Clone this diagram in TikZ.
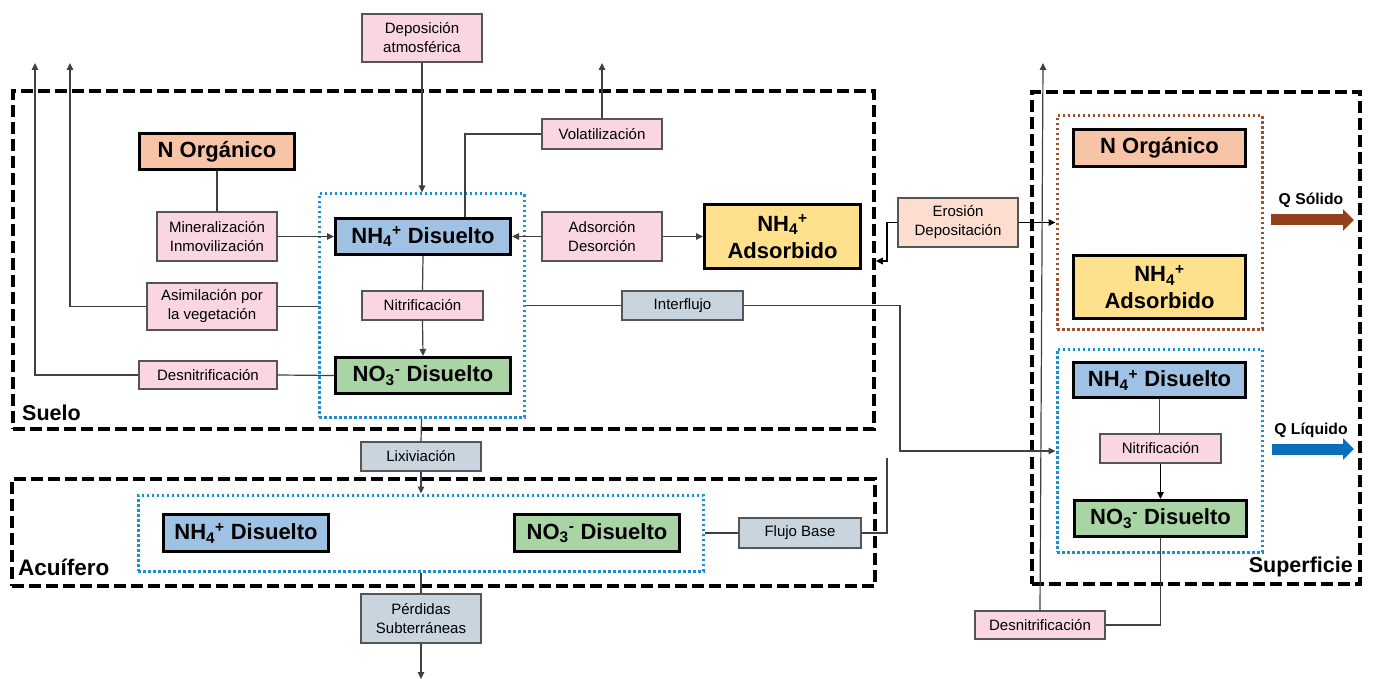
\documentclass[tikz,border=0pt]{standalone}
\usepackage{fontspec}
\setmainfont{Liberation Sans}
\usetikzlibrary{arrows.meta}
\definecolor{pinkf}{HTML}{F9D6E2}
\definecolor{grayf}{HTML}{C8D4DE}
\definecolor{orgf}{HTML}{F8C4A8}
\definecolor{nhf}{HTML}{9FC2E4}
\definecolor{nof}{HTML}{A9D5A5}
\definecolor{adsf}{HTML}{FFE08C}
\definecolor{erosf}{HTML}{FCDDD0}
\definecolor{dblue}{HTML}{1A8FD6}
\definecolor{dbrown}{HTML}{A0502D}
\definecolor{qbrown}{HTML}{93401C}
\definecolor{qblue}{HTML}{0A70BE}
\definecolor{lgray}{HTML}{555555}
\definecolor{cgray}{HTML}{404040}
\tikzset{
  lbl/.style={draw=lgray, line width=1.2pt, fill=pinkf, align=center, inner sep=0pt,
    font=\fontsize{15}{19}\selectfont},
  glbl/.style={lbl, fill=grayf},
  big/.style={draw=black, line width=3pt, align=center, inner sep=0pt,
    font=\bfseries\fontsize{22}{27}\selectfont},
  container/.style={draw=black, line width=3.5pt, dash pattern=on 12pt off 5pt, inner sep=0pt},
  bluebox/.style={draw=dblue, line width=3pt, dash pattern=on 2.5pt off 2.5pt, inner sep=0pt},
  brownbox/.style={draw=dbrown, line width=3pt, dash pattern=on 2.5pt off 2.5pt, inner sep=0pt},
  conn/.style={draw=cgray, line width=1.2pt},
  arr/.style={conn, -{Triangle[length=7pt,width=6.5pt]}},
  zone/.style={font=\bfseries\fontsize{21.5}{24}\selectfont, inner sep=0pt},
  qlab/.style={font=\bfseries\fontsize{15.7}{18}\selectfont, inner sep=0pt},
}
\newcommand{\nhf}{NH\textsubscript{4}\textsuperscript{+}}
\newcommand{\nof}{NO\textsubscript{3}\textsuperscript{-}}
\begin{document}
\begin{tikzpicture}[x=1pt,y=-1pt]
\useasboundingbox (0,0) rectangle (1373,679);
% containers
\node[container, minimum width=861pt, minimum height=338pt] (suelo) at (443.5,260) {};
\node[container, minimum width=863pt, minimum height=107pt] (acuif) at (443.5,532.5) {};
\node[container, minimum width=328pt, minimum height=492pt] (superf) at (1196,338) {};
\node[bluebox, minimum width=205pt, minimum height=223pt] (soilblue) at (421.5,305.5) {};
\node[bluebox, minimum width=565pt, minimum height=76pt] (aqblue) at (420.5,533) {};
\node[brownbox, minimum width=205pt, minimum height=213pt] (brown) at (1159.5,222.5) {};
\node[bluebox, minimum width=205pt, minimum height=203pt] (surfblue) at (1159.5,450.5) {};
\node[zone, anchor=west] (lsuelo) at (22,413) {Suelo};
\node[zone, anchor=west, font=\bfseries\fontsize{22.5}{24}\selectfont] (lacuif) at (18,567) {Acuífero};
\node[zone, anchor=east] (lsuperf) at (1353,567) {Superficie};
% soil
\node[lbl, minimum width=120pt, minimum height=48pt] (depo) at (422,38) {Deposición\\atmosférica};
\node[big, fill=orgf, minimum width=155pt, minimum height=36pt] (orgS) at (217,151.5) {N Orgánico};
\node[lbl, minimum width=120pt, minimum height=49pt] (minera) at (217,236.5) {Mineralización\\Inmovilización};
\node[lbl, minimum width=130pt, minimum height=47pt] (asim) at (212,306.5) {Asimilación por\\la vegetación};
\node[lbl, minimum width=138pt, minimum height=28pt] (desn) at (208,375) {Desnitrificación};
\node[big, fill=nhf, minimum width=175pt, minimum height=36pt] (nh4S) at (423,236.5) {\nhf{} Disuelto};
\node[lbl, minimum width=121pt, minimum height=29pt] (nitrS) at (422.5,305.5) {Nitrificación};
\node[big, fill=nof, minimum width=175pt, minimum height=36pt] (no3S) at (423,375.5) {\nof{} Disuelto};
\node[lbl, minimum width=120pt, minimum height=30pt] (volat) at (602,134) {Volatilización};
\node[lbl, minimum width=120pt, minimum height=49pt] (ads) at (602,236.5) {Adsorción\\Desorción};
\node[big, fill=adsf, minimum width=156pt, minimum height=64pt] (adsorb) at (782.5,236.5) {\nhf\\Adsorbido};
\node[glbl, minimum width=121pt, minimum height=29pt] (interf) at (682.5,305.5) {Interflujo};
% aquifer
\node[glbl, minimum width=120pt, minimum height=29pt] (lix) at (421,456.5) {Lixiviación};
\node[big, fill=nhf, minimum width=165pt, minimum height=37pt] (nh4A) at (246,533) {\nhf{} Disuelto};
\node[big, fill=nof, minimum width=165pt, minimum height=37pt] (no3A) at (597,533) {\nof{} Disuelto};
\node[glbl, minimum width=120pt, minimum height=49pt] (perd) at (421,618.5) {Pérdidas\\Subterráneas};
\node[glbl, minimum width=122pt, minimum height=30pt] (flujo) at (800,533) {Flujo Base};
% surface
\node[lbl, fill=erosf, minimum width=120pt, minimum height=49pt] (eros) at (958,222.5) {Erosión\\Depositación};
\node[big, fill=orgf, minimum width=172pt, minimum height=37pt] (orgSf) at (1159.5,148) {N Orgánico};
\node[big, fill=adsf, minimum width=172pt, minimum height=63pt] (adsSf) at (1159.5,287) {\nhf\\Adsorbido};
\node[big, fill=nhf, minimum width=172pt, minimum height=35pt] (nh4Sf) at (1159.5,380) {\nhf{} Disuelto};
\node[lbl, minimum width=121pt, minimum height=29pt] (nitrSf) at (1160.5,448.5) {Nitrificación};
\node[big, fill=nof, minimum width=172pt, minimum height=36pt] (no3Sf) at (1160.5,518.5) {\nof{} Disuelto};
\node[lbl, minimum width=130pt, minimum height=28pt] (desnSf) at (1040,625) {Desnitrificación};
\node[qlab] (qsol) at (1311,200) {Q Sólido};
\node[qlab] (qliq) at (1311,430) {Q Líquido};
% free ends
\coordinate (upA) at (35,63);
\coordinate (upB) at (70,63);
\coordinate (upV) at (602,63);
\coordinate (upD) at (1043,63);
\coordinate (down) at (421,679);
\coordinate (ibend) at (900,451);
\coordinate (fend) at (887,458);
\coordinate (ebend) at (887,261);
\coordinate (qs1) at (1271,220);
\coordinate (qs2) at (1354,220);
\coordinate (ql1) at (1272,449);
\coordinate (ql2) at (1354,449);
% connectors soil
\draw[arr] (depo.south) -- (depo.south |- soilblue.north);
\draw[conn] (orgS.south) -- (minera.north);
\draw[arr] (minera.east) -- (nh4S.west);
\draw[conn] (asim.east) -- (asim.east -| soilblue.west);
\draw[arr] (asim.west) -| (upB);
\draw[conn] (no3S.west) -- (desn.east);
\draw[arr] (desn.west) -| (upA);
\draw[conn] ([xshift=42pt]nh4S.north) |- (volat.west);
\draw[arr] (volat.north) -- (upV);
\draw[arr] (ads.west) -- (nh4S.east);
\draw[arr] (ads.east) -- (adsorb.west);
\draw[conn] (nh4S.south) -- (nitrS.north);
\draw[arr] (nitrS.south) -- (no3S.north);
\draw[conn] (interf.west -| soilblue.east) -- (interf.west);
\draw[arr] (interf.east) -- (interf.east -| ibend) -- (ibend) -- (ibend -| surfblue.west);
% aquifer
\draw[conn] (soilblue.south) -- (lix.north);
\draw[arr] (lix.south) -- (lix.south |- aqblue.north);
\draw[conn] (perd.north |- aqblue.south) -- (perd.north);
\draw[arr] (perd.south) -- (down);
\draw[conn] (aqblue.east) -- (flujo.west);
\draw[conn] (flujo.east) -| (fend);
% surface
\draw[arr, draw=black] (eros.east) -- (eros.east -| brown.west);
\draw[arr, draw=black] (eros.west) -| (ebend) -- (ebend -| suelo.east);
\draw[conn] (nh4Sf.south) -- (nh4Sf.south |- nitrSf.north);
\draw[arr, draw=black] (nitrSf.south) -- (nitrSf.south |- no3Sf.north);
\draw[conn] (no3Sf.south) |- (desnSf.east);
\draw[arr] (desnSf.north) -- (upD);
\draw[draw=qbrown, line width=11pt, -{Triangle[length=11pt,width=21pt]}] (qs1) -- (qs2);
\draw[draw=qblue, line width=11pt, -{Triangle[length=11pt,width=21pt]}] (ql1) -- (ql2);
\end{tikzpicture}
\end{document}
